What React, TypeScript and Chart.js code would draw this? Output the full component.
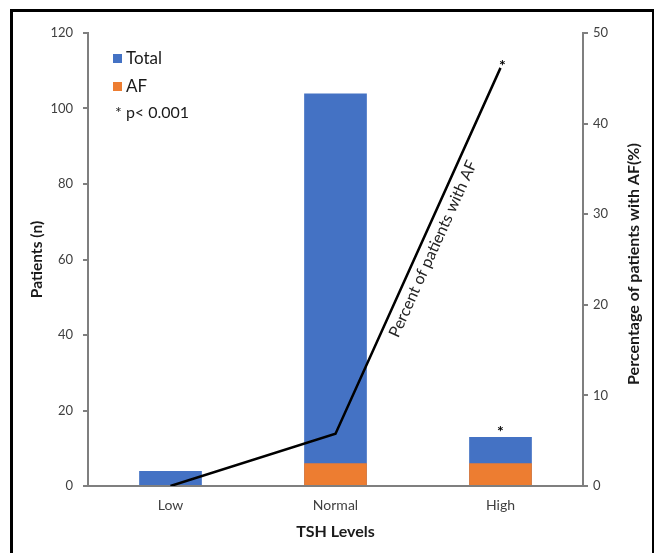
import React, { useEffect, useRef } from "react";
import { Chart, registerables } from "chart.js";

Chart.register(...registerables);

const categories = ["Low", "Normal", "High"];
const totalPatients = [4, 104, 13];
const afPatients = [0, 6, 6];
const afPercent = [0, 5.77, 46.15];

const legendLabels = ["Total", "AF"];
const significanceNote = "* p< 0.001";
const lineLabel = "Percent of patients with AF";
const rightTitle = "Percentage of patients with AF(%)";

const BLUE = "#4472C4";
const ORANGE = "#ED7D31";
const AXIS = "#7f7f7f";
const FONT = "Lato, 'Open Sans', sans-serif";

const annotationPlugin = {
  id: "annotationPlugin",
  afterDatasetsDraw(chart: any) {
    const ctx = chart.ctx;
    const area = chart.chartArea;
    const linePts = chart.getDatasetMeta(2).data;
    const totalBars = chart.getDatasetMeta(0).data;
    ctx.save();

    // asterisks
    ctx.fillStyle = "#000";
    ctx.font = `bold 16px ${FONT}`;
    ctx.textAlign = "center";
    ctx.textBaseline = "alphabetic";
    const hi = linePts[2];
    ctx.fillText("*", hi.x + 2, hi.y + 3);
    const hb = totalBars[2];
    ctx.fillText("*", hb.x, hb.y);

    // rotated label along line
    const p1 = linePts[1];
    const p2 = linePts[2];
    const dx = p2.x - p1.x;
    const dy = p2.y - p1.y;
    const len = Math.sqrt(dx * dx + dy * dy);
    const ang = Math.atan2(dy, dx);
    const t = 0.52;
    const nx = -dy / len;
    const ny = dx / len;
    const off = 13;
    const cx = p1.x + dx * t + nx * off;
    const cy = p1.y + dy * t + ny * off;
    ctx.translate(cx, cy);
    ctx.rotate(ang);
    ctx.font = `16px ${FONT}`;
    ctx.fillStyle = "#222";
    ctx.textAlign = "center";
    ctx.textBaseline = "middle";
    ctx.fillText(lineLabel, 0, 0);
    ctx.setTransform(1, 0, 0, 1, 0, 0);

    // right axis title, reading bottom to top
    const rScale = chart.scales.y1;
    ctx.translate(rScale.right - 28, area.top + (area.bottom - area.top) * 0.51);
    ctx.rotate(-Math.PI / 2);
    ctx.font = `bold 16px ${FONT}`;
    ctx.fillStyle = "#1a1a1a";
    ctx.textAlign = "center";
    ctx.textBaseline = "middle";
    ctx.fillText(rightTitle, 0, 0);
    ctx.setTransform(1, 0, 0, 1, 0, 0);

    // legend inside plot
    const lx = area.left + 25;
    const colors = [BLUE, ORANGE];
    ctx.font = `17px ${FONT}`;
    ctx.textAlign = "left";
    ctx.textBaseline = "middle";
    legendLabels.forEach((lab, i) => {
      const y = area.top + 26 + i * 28;
      ctx.fillStyle = colors[i];
      ctx.fillRect(lx, y - 5, 9, 9);
      ctx.fillStyle = "#1a1a1a";
      ctx.fillText(lab, lx + 13, y);
    });
    ctx.font = `16px ${FONT}`;
    ctx.fillStyle = "#1a1a1a";
    ctx.fillText(significanceNote, lx + 2, area.top + 80);
    ctx.restore();
  },
};

export default function App() {
  const canvasRef = useRef<HTMLCanvasElement | null>(null);

  useEffect(() => {
    if (!canvasRef.current) return;
    const chart = new Chart(canvasRef.current, {
      type: "bar",
      data: {
        labels: categories,
        datasets: [
          {
            type: "bar",
            label: "Total",
            data: totalPatients,
            backgroundColor: BLUE,
            yAxisID: "y",
            grouped: false,
            order: 2,
            categoryPercentage: 0.38,
            barPercentage: 1,
          } as any,
          {
            type: "bar",
            label: "AF",
            data: afPatients,
            backgroundColor: ORANGE,
            yAxisID: "y",
            grouped: false,
            order: 1,
            categoryPercentage: 0.38,
            barPercentage: 1,
          } as any,
          {
            type: "line",
            label: "Percent of patients with AF",
            data: afPercent,
            borderColor: "#000",
            borderWidth: 2.5,
            pointRadius: 0,
            tension: 0,
            yAxisID: "y1",
            order: 0,
          } as any,
        ],
      },
      options: {
        responsive: false,
        animation: false,
        layout: { padding: { top: 33, left: 0, right: 0, bottom: 0 } },
        plugins: {
          legend: { display: false },
          tooltip: { enabled: false },
        },
        scales: {
          x: {
            offset: true,
            grid: { display: false, drawTicks: false },
            border: { display: true, color: AXIS, width: 2 },
            ticks: { color: "#404040", font: { family: FONT, size: 14 }, padding: 11 },
            title: {
              display: true,
              text: "TSH Levels",
              color: "#1a1a1a",
              font: { family: FONT, size: 16, weight: "bold" },
              padding: { top: 0, bottom: 12 },
            },
            afterFit: (s: any) => {
              s.height = 67;
            },
          },
          y: {
            position: "left",
            min: 0,
            max: 120,
            ticks: { stepSize: 20, color: "#404040", font: { family: FONT, size: 13 }, padding: 10 },
            grid: { drawOnChartArea: false, drawTicks: true, tickLength: 5, color: AXIS, lineWidth: 2 },
            border: { display: true, color: AXIS, width: 2 },
            title: {
              display: true,
              text: "Patients (n)",
              color: "#1a1a1a",
              font: { family: FONT, size: 15.5, weight: "bold" },
              padding: { top: 28, bottom: 0 },
            },
            afterFit: (s: any) => {
              s.width = 88;
            },
          },
          y1: {
            position: "right",
            min: 0,
            max: 50,
            ticks: { stepSize: 10, color: "#404040", font: { family: FONT, size: 13 }, padding: 5 },
            grid: { drawOnChartArea: false, drawTicks: true, tickLength: 5, color: AXIS, lineWidth: 2 },
            border: { display: true, color: AXIS, width: 2 },
            title: { display: false },
            afterFit: (s: any) => {
              s.width = 79;
            },
          },
        },
      },
      plugins: [annotationPlugin],
    } as any);
    return () => chart.destroy();
  }, []);

  return (
    <div style={{ position: "relative", width: 662, height: 553 }}>
      <canvas
        ref={canvasRef}
        width={662}
        height={553}
        style={{ position: "absolute", left: -8, top: -8, width: 662, height: 553 }}
      />
      <div
        style={{
          position: "absolute",
          left: 2,
          top: 1,
          width: 645,
          height: 570,
          border: "3px solid #000",
          boxSizing: "border-box",
          pointerEvents: "none",
        }}
      />
    </div>
  );
}
